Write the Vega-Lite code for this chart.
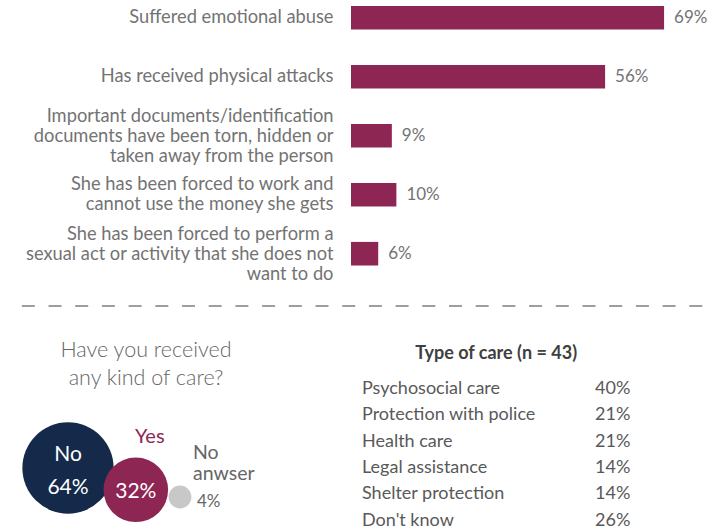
{
  "$schema": "https://vega.github.io/schema/vega-lite/v6.json",
  "padding": {"left": 15, "top": 0, "right": 0, "bottom": 0},
  "background": "white",
  "config": {"view": {"stroke": null}, "font": "Lato"},
  "spacing": 32,
  "vconcat": [
    {
      "spacing": 22,
      "vconcat": [
        {
          "width": 698,
          "height": 271.4,
          "data": {"values": [
            {"item": "Suffered emotional abuse", "pct": 0.69},
            {"item": "Has received physical attacks", "pct": 0.56},
            {"item": "Important documents/identification\ndocuments have been torn, hidden or\ntaken away from the person", "pct": 0.09},
            {"item": "She has been forced to work and\ncannot use the money she gets", "pct": 0.10},
            {"item": "She has been forced to perform a\nsexual act or activity that she does not\nwant to do", "pct": 0.06}
          ]},
          "encoding": {
            "y": {
              "field": "item", "type": "nominal", "sort": null,
              "scale": {"paddingInner": 0.6, "paddingOuter": 0.1},
              "axis": {
                "title": null, "domain": false, "ticks": false, "tickSize": 0,
                "labelPadding": -317, "labelAlign": "right", "labelFont": "Lato", "labelFontSize": 18.3,
                "labelColor": "#737373", "labelLimit": 400, "labelLineHeight": 20,
                "labelExpr": "split(datum.label, '\\n')",
                "labelOffset": {
                  "condition": [
                    {"test": "length(split(datum.value, '\\n')) == 3", "value": -19},
                    {"test": "length(split(datum.value, '\\n')) == 2", "value": -10}
                  ],
                  "value": 0
                }
              }
            },
            "x": {"field": "pct", "type": "quantitative", "scale": {"domain": [0, 0.8], "range": [335, 698], "nice": false}, "axis": null}
          },
          "layer": [
            {"mark": {"type": "bar", "color": "#8e2654"}},
            {
              "mark": {"type": "text", "align": "left", "baseline": "middle", "dx": 10, "font": "Lato", "fontSize": 17, "color": "#737373"},
              "encoding": {"text": {"field": "pct", "type": "quantitative", "format": ".0%"}}
            }
          ]
        },
        {
          "width": 700,
          "height": 1,
          "data": {"values": [{"line": "separator"}]},
          "mark": {"type": "rule", "color": "#7f7f7f", "strokeWidth": 1.5, "strokeDash": [13, 13.7], "strokeDashOffset": 13},
          "encoding": {"y": {"datum": 0, "type": "quantitative", "scale": {"domain": [0, 1]}, "axis": null}}
        }
      ]
    },
    {
      "spacing": 86,
      "bounds": "flush",
      "hconcat": [
        {
          "width": 260,
          "height": 136,
          "title": {"text": ["Have you received", "any kind of care?"], "font": "Lato", "fontSize": 21.5, "fontWeight": 300, "color": "#666666", "lineHeight": 28, "anchor": "middle", "offset": 0},
          "data": {"values": [
            {"answer": "No", "pct": 0.64},
            {"answer": "No anwser", "pct": 0.04},
            {"answer": "Yes", "pct": 0.32}
          ]},
          "encoding": {
            "x": {"field": "pct", "type": "quantitative", "scale": {"type": "pow", "exponent": 1.28, "domain": [0.04, 0.64], "range": [164, 52], "nice": false, "zero": false}, "axis": null},
            "y": {"field": "pct", "type": "quantitative", "scale": {"type": "pow", "exponent": 2, "domain": [0.04, 0.64], "range": [108, 79], "nice": false, "zero": false}, "axis": null}
          },
          "layer": [
            {
              "mark": {"type": "circle", "opacity": 1},
              "encoding": {
                "size": {"field": "pct", "type": "quantitative", "scale": {"domain": [0, 0.64], "range": [0, 8332]}, "legend": null},
                "color": {"field": "answer", "type": "nominal", "scale": {"domain": ["No", "Yes", "No anwser"], "range": ["#152a4a", "#8e2654", "#c8c8c8"]}, "legend": null}
              }
            },
            {
              "transform": [{"filter": "datum.answer == 'No'"}],
              "mark": {"type": "text", "baseline": "middle", "dy": -13, "font": "Lato", "fontSize": 21, "color": "white"},
              "encoding": {"text": {"field": "answer"}}
            },
            {
              "transform": [{"filter": "datum.answer == 'No'"}],
              "mark": {"type": "text", "baseline": "middle", "dy": 20, "font": "Lato", "fontSize": 21, "color": "white"},
              "encoding": {"text": {"field": "pct", "type": "quantitative", "format": ".0%"}}
            },
            {
              "transform": [{"filter": "datum.answer == 'Yes'"}],
              "mark": {"type": "text", "baseline": "middle", "dy": 2, "font": "Lato", "fontSize": 21, "color": "white"},
              "encoding": {"text": {"field": "pct", "type": "quantitative", "format": ".0%"}}
            },
            {
              "transform": [{"filter": "datum.answer == 'Yes'"}],
              "mark": {"type": "text", "baseline": "middle", "dx": 14, "dy": -53, "font": "Lato", "fontSize": 20, "color": "#8e2654"},
              "encoding": {"text": {"field": "answer"}}
            },
            {
              "transform": [{"filter": "datum.answer == 'No anwser'"}],
              "mark": {"type": "text", "align": "left", "baseline": "middle", "lineBreak": " ", "lineHeight": 21, "dx": 13, "dy": -44, "font": "Lato", "fontSize": 19.5, "color": "#666666"},
              "encoding": {"text": {"field": "answer"}}
            },
            {
              "transform": [{"filter": "datum.answer == 'No anwser'"}],
              "mark": {"type": "text", "align": "left", "baseline": "middle", "dx": 17, "dy": 5, "font": "Lato", "fontSize": 17, "color": "#666666"},
              "encoding": {"text": {"field": "pct", "type": "quantitative", "format": ".0%"}}
            }
          ]
        },
        {
          "width": 233,
          "height": 131.5,
          "title": {"text": "Type of care (n = 43)", "font": "Lato", "fontSize": 18, "fontWeight": "bold", "color": "#404040", "anchor": "middle", "frame": "bounds", "offset": 17},
          "data": {"values": [
            {"care": "Psychosocial care", "pct": 0.40},
            {"care": "Protection with police", "pct": 0.21},
            {"care": "Health care", "pct": 0.21},
            {"care": "Legal assistance", "pct": 0.14},
            {"care": "Shelter protection", "pct": 0.14},
            {"care": "Don't know", "pct": 0.26}
          ]},
          "encoding": {
            "y": {"field": "care", "type": "nominal", "sort": null, "scale": {"type": "point", "padding": 0}, "axis": null}
          },
          "layer": [
            {
              "mark": {"type": "text", "align": "left", "baseline": "middle", "font": "Lato", "fontSize": 18, "color": "#595959"},
              "encoding": {
                "x": {"datum": "name", "type": "nominal", "scale": {"type": "point", "domain": ["name", "value"], "padding": 0}, "axis": null},
                "text": {"field": "care"}
              }
            },
            {
              "mark": {"type": "text", "align": "left", "baseline": "middle", "font": "Lato", "fontSize": 18, "color": "#595959"},
              "encoding": {
                "x": {"datum": "value", "type": "nominal", "axis": null},
                "text": {"field": "pct", "type": "quantitative", "format": ".0%"}
              }
            }
          ]
        }
      ]
    }
  ]
}
